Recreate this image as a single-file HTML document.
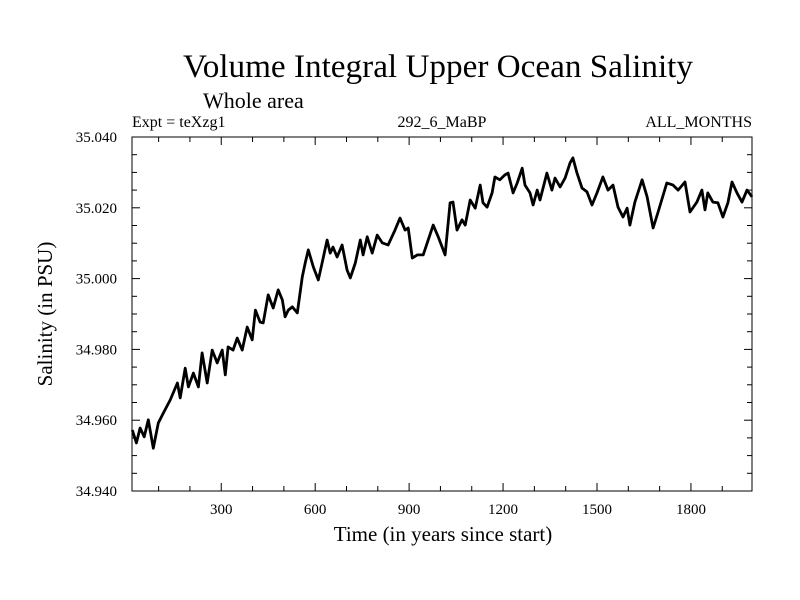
<!DOCTYPE html>
<html><head><meta charset="utf-8"><style>
body{margin:0;background:#fff;}
svg{display:block;font-family:"Liberation Serif",serif;}
</style></head><body>
<svg id="chart" width="800" height="600" viewBox="0 0 800 600">
<rect width="800" height="600" fill="#fff"/>
<text x="183" y="77" font-size="33" textLength="510" lengthAdjust="spacingAndGlyphs">Volume Integral Upper Ocean Salinity</text>
<text x="203" y="108" font-size="22">Whole area</text>
<text x="132" y="127" font-size="16">Expt = teXzg1</text>
<text x="442" y="127" font-size="16" text-anchor="middle">292_6_MaBP</text>
<text x="752" y="127" font-size="16" text-anchor="end">ALL_MONTHS</text>
<text x="443" y="541" font-size="21" text-anchor="middle">Time (in years since start)</text>
<text transform="translate(52,314) rotate(-90)" font-size="21" text-anchor="middle">Salinity (in PSU)</text>
<g id="axes"></g>
<path id="series" fill="none" stroke="#000" stroke-width="2.8" stroke-linejoin="round"/>
<rect x="132" y="137" width="620" height="354" fill="none" stroke="#000" stroke-width="1"/>
</svg>
<script>
const years=[16,29,41,54,67,83,99,115,137,160,169,185,195,211,227,239,255,271,287,303,313,322,338,351,367,383,399,409,424,434,450,466,482,495,504,514,527,543,559,568,578,594,610,622,638,648,657,670,686,702,712,728,744,753,766,782,798,814,833,855,871,887,897,910,926,945,961,977,993,1015,1031,1040,1053,1069,1079,1095,1111,1127,1136,1149,1165,1174,1190,1206,1216,1232,1245,1261,1270,1286,1296,1309,1318,1340,1356,1366,1382,1398,1414,1423,1436,1452,1468,1484,1500,1519,1535,1551,1567,1583,1596,1605,1621,1644,1660,1679,1695,1723,1743,1759,1781,1797,1819,1835,1845,1854,1870,1886,1902,1918,1931,1947,1963,1979,1995];
const salinity=[34.9572,34.9536,34.9578,34.9553,34.9601,34.9521,34.9592,34.9620,34.9657,34.9705,34.9663,34.9747,34.9694,34.9733,34.9694,34.9790,34.9705,34.9798,34.9762,34.9798,34.9728,34.9807,34.9798,34.9832,34.9798,34.9863,34.9827,34.9911,34.9877,34.9875,34.9954,34.9917,34.9968,34.9940,34.9892,34.9911,34.9920,34.9903,35.0005,35.0044,35.0081,35.0033,34.9996,35.0044,35.0109,35.0072,35.0089,35.0061,35.0095,35.0024,35.0002,35.0044,35.0109,35.0067,35.0118,35.0072,35.0123,35.0101,35.0095,35.0137,35.0171,35.0137,35.0143,35.0058,35.0067,35.0067,35.0109,35.0151,35.0118,35.0067,35.0214,35.0216,35.0137,35.0166,35.0151,35.0222,35.0199,35.0264,35.0214,35.0202,35.0242,35.0287,35.0279,35.0293,35.0298,35.0242,35.0270,35.0312,35.0264,35.0242,35.0208,35.0250,35.0222,35.0298,35.0250,35.0284,35.0259,35.0284,35.0327,35.0341,35.0298,35.0256,35.0245,35.0208,35.0242,35.0287,35.0250,35.0264,35.0202,35.0174,35.0199,35.0151,35.0216,35.0279,35.0231,35.0143,35.0188,35.0270,35.0264,35.0250,35.0273,35.0188,35.0216,35.0250,35.0194,35.0242,35.0216,35.0214,35.0174,35.0214,35.0273,35.0242,35.0216,35.0250,35.0231];
const xTickLabels=[300,600,900,1200,1500,1800];
const yTickLabels=["34.940","34.960","34.980","35.000","35.020","35.040"];

const X0=132,X1=752,Y0=137,Y1=491,XMIN=15,XMAX=1995,YMIN=34.94,YMAX=35.04;
const sx=v=>X0+(v-XMIN)/(XMAX-XMIN)*(X1-X0);
const sy=v=>Y1-(v-YMIN)/(YMAX-YMIN)*(Y1-Y0);
const NS="http://www.w3.org/2000/svg";
const g=document.getElementById('axes');
function ln(x1,y1,x2,y2){const l=document.createElementNS(NS,'line');l.setAttribute('x1',x1);l.setAttribute('y1',y1);l.setAttribute('x2',x2);l.setAttribute('y2',y2);l.setAttribute('stroke','#000');l.setAttribute('stroke-width','1');


g.appendChild(l);}
for(let v=100;v<XMAX;v+=100){const x=sx(v);const L=(v%300===0)?8:5;ln(x,Y1,x,Y1-L);ln(x,Y0,x,Y0+L);}
for(let i=0;i<=20;i++){const v=YMIN+i*0.005;const y=sy(v);const L=(i%4===0)?8:5;ln(X0,y,X0+L,y);ln(X1,y,X1-L,y);}
xTickLabels.forEach(v=>{const t=document.createElementNS(NS,'text');t.setAttribute('x',sx(v));t.setAttribute('y',514);t.setAttribute('font-size','15');t.setAttribute('text-anchor','middle');t.textContent=v;


g.appendChild(t);});
yTickLabels.forEach(s=>{const t=document.createElementNS(NS,'text');t.setAttribute('x',117);t.setAttribute('y',sy(parseFloat(s))+5);t.setAttribute('font-size','15');t.setAttribute('text-anchor','end');t.textContent=s;


g.appendChild(t);});
let d='';years.forEach((yr,i)=>{d+=(i?'L':'M')+sx(yr).toFixed(1)+' '+sy(salinity[i]).toFixed(1);});
document.getElementById('series').setAttribute('d',d);
</script>
</body></html>
